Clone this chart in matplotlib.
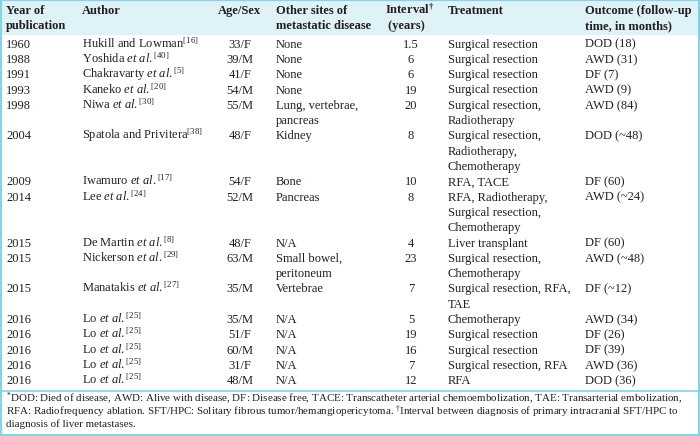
import matplotlib
matplotlib.use("Agg")
import matplotlib.pyplot as plt
from matplotlib.patches import Rectangle

plt.rcParams['font.family'] = ['Liberation Serif', 'DejaVu Serif']
plt.rcParams['mathtext.fontset'] = 'custom'
plt.rcParams['mathtext.rm'] = 'Liberation Serif'
plt.rcParams['mathtext.it'] = 'Liberation Serif:italic'
plt.rcParams['mathtext.bf'] = 'Liberation Serif:bold'
plt.rcParams['mathtext.default'] = 'regular'

# table contents
headers = ["Year of\npublication", "Author", "Age/Sex", "Other sites of\nmetastatic disease",
           "Interval$^{†}$\n (years)", "Treatment", "Outcome (follow-up\ntime, in months)"]
years = ["1960", "1988", "1991", "1993", "1998", "2004", "2009", "2014",
         "2015", "2015", "2015", "2016", "2016", "2016", "2016", "2016"]
authors = ["Hukill and Lowman", "Yoshida", "Chakravarty", "Kaneko", "Niwa", "Spatola and Privitera",
           "Iwamuro", "Lee", "De Martin", "Nickerson", "Manatakis", "Lo", "Lo", "Lo", "Lo", "Lo"]
etal = [False, True, True, True, True, False, True, True, True, True, True, True, True, True, True, True]
refs = [16, 40, 5, 20, 30, 38, 17, 24, 8, 29, 27, 25, 25, 25, 25, 25]
ages = ["33/F", "39/M", "41/F", "54/M", "55/M", "48/F", "54/F", "52/M",
        "48/F", "63/M", "35/M", "35/M", "51/F", "60/M", "31/F", "48/M"]
sites = ["None", "None", "None", "None", "Lung, vertebrae,\npancreas", "Kidney", "Bone", "Pancreas",
         "N/A", "Small bowel,\nperitoneum", "Vertebrae", "N/A", "N/A", "N/A", "N/A", "N/A"]
intervals = ["1.5", "6", "6", "19", "20", "8", "10", "8", "4", "23", "7", "5", "19", "16", "7", "12"]
treatments = ["Surgical resection", "Surgical resection", "Surgical resection", "Surgical resection",
              "Surgical resection,\nRadiotherapy",
              "Surgical resection,\nRadiotherapy,\nChemotherapy",
              "RFA, TACE",
              "RFA, Radiotherapy,\nSurgical resection,\nChemotherapy",
              "Liver transplant",
              "Surgical resection,\nChemotherapy",
              "Surgical resection, RFA,\nTAE",
              "Chemotherapy", "Surgical resection", "Surgical resection",
              "Surgical resection, RFA", "RFA"]
outcomes = ["DOD (18)", "AWD (31)", "DF (7)", "AWD (9)", "AWD (84)", "DOD (~48)", "DF (60)", "AWD (~24)",
            "DF (60)", "AWD (~48)", "DF (~12)", "AWD (34)", "DF (26)", "DF (39)", "AWD (36)", "DOD (36)"]
footnote = [
    "$^{*}$DOD: Died of disease, AWD: Alive with disease, DF: Disease free, TACE: Transcatheter arterial "
    "chemoembolization, TAE: Transarterial embolization,",
    "RFA: Radiofrequency ablation. SFT/HPC: Solitary fibrous tumor/hemangiopericytoma. $^{†}$Interval "
    "between diagnosis of primary intracranial SFT/HPC to",
    "diagnosis of liver metastases.",
]

W, H = 700, 436
fig = plt.figure(figsize=(W / 100, H / 100), dpi=100)
ax = fig.add_axes([0, 0, 1, 1])
ax.set_xlim(0, W)
ax.set_ylim(H, 0)
ax.axis('off')

cyan = '#86d3e4'
ax.add_patch(Rectangle((0, 0), W, 35, color='#dff2f7', lw=0))
ax.add_patch(Rectangle((0.8, 0.5), W - 1.6, 434, fill=False, ec=cyan, lw=1.6))
ax.plot([0, W], [391, 391], color=cyan, lw=1.2)

fs = 9.0
tc = '#231f20'
base = 3.6  # baseline offset below line centre, px
# column x positions and alignment
cols = [(6, 'left'), (82, 'left'), (240, 'center'), (276, 'left'),
        (411, 'center'), (448, 'left'), (585, 'left')]

# header
hx = [6, 82, 218, 276, 385, 448, 585]
for x, h in zip(hx, headers):
    for k, line in enumerate(h.split('\n')):
        ax.text(x, 10 + k * 15.5 + base, line, fontsize=fs, fontweight='bold', color=tc,
                ha='left', va='baseline')

author_txt = []
for a, e, r in zip(authors, etal, refs):
    if e:
        author_txt.append(a + r" $\mathit{et\ al.}^{[%d]}$" % r)
    else:
        author_txt.append(a + r"$^{[%d]}$" % r)

step = 15.3
y = 44
for i in range(len(years)):
    cells = [years[i], author_txt[i], ages[i], sites[i], intervals[i], treatments[i], outcomes[i]]
    nl = max(c.count('\n') + 1 for c in cells)
    for (x, ha), c in zip(cols, cells):
        for k, line in enumerate(c.split('\n')):
            ax.text(x, y + k * step + base, line, fontsize=fs, color=tc, ha=ha, va='baseline')
    y += nl * step

for k, line in enumerate(footnote):
    ax.text(6, 399.5 + k * 12 + 3, line, fontsize=7.9, color=tc, ha='left', va='baseline')

fig.savefig('out.png', dpi=100)
